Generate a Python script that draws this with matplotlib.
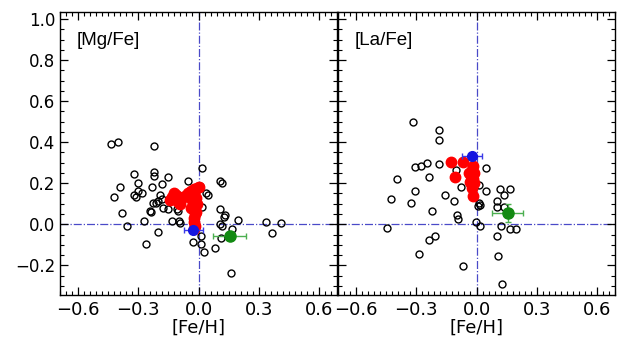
import matplotlib
matplotlib.use("Agg")
import matplotlib.pyplot as plt
from matplotlib.ticker import MultipleLocator

# field stars, [Fe/H] vs [Mg/Fe]
mg_feh = [-0.438, -0.400, -0.222, 0.017, -0.320, -0.222, -0.222, -0.153, -0.300, -0.390,
          -0.183, -0.233, -0.053, 0.009, 0.105, 0.115, -0.420, -0.300, -0.279, -0.320,
          -0.312, -0.192, -0.200, -0.212, -0.183, -0.225, 0.037, 0.047, -0.242, -0.237,
          -0.380, -0.178, -0.153, -0.108, -0.100, 0.017, 0.105, 0.134, 0.125, 0.195,
          0.334, 0.412, 0.364, -0.270, -0.130, -0.097, -0.092, -0.358, 0.105, 0.115,
          0.167, -0.200, 0.014, 0.114, -0.262, -0.025, 0.014, 0.025, 0.084, 0.164]
mg_val = [0.392, 0.400, 0.382, 0.273, 0.244, 0.254, 0.233, 0.232, 0.203, 0.183,
          0.194, 0.183, 0.213, 0.187, 0.213, 0.203, 0.132, 0.162, 0.154, 0.143,
          0.132, 0.143, 0.114, 0.105, 0.122, 0.102, 0.154, 0.145, 0.066, 0.059,
          0.057, 0.081, 0.073, 0.073, 0.065, 0.083, 0.073, 0.045, 0.033, 0.021,
          0.013, 0.004, -0.045, 0.015, 0.015, 0.016, 0.005, -0.008, 0.001, -0.008,
          -0.024, -0.036, -0.057, -0.068, -0.096, -0.085, -0.096, -0.134, -0.117, -0.236]

# cluster members (red)
mg_red_feh = [-0.140, -0.130, -0.120, -0.110, -0.095, -0.080, -0.065, -0.050, -0.035, -0.020,
              -0.005, 0.000, -0.020, -0.010, -0.020, -0.015, -0.020, -0.015, -0.020, -0.020,
              -0.015, -0.020, -0.010, -0.005, -0.030, -0.035, -0.100, -0.090]
mg_red_val = [0.120, 0.135, 0.150, 0.145, 0.135, 0.130, 0.140, 0.150, 0.160, 0.170,
              0.175, 0.180, 0.150, 0.130, 0.110, 0.090, 0.070, 0.050, 0.030, 0.010,
              -0.010, -0.025, 0.060, 0.100, 0.120, 0.080, 0.110, 0.100]

# field stars, [Fe/H] vs [La/Fe]
la_feh = [-0.316, -0.187, -0.187, -0.307, -0.278, -0.248, -0.185, -0.104, 0.047, -0.397,
          -0.236, -0.307, -0.427, -0.156, -0.326, -0.114, -0.075, 0.014, 0.047, 0.116,
          0.167, 0.136, 0.103, 0.103, 0.014, 0.009, -0.224, -0.095, -0.092, -0.004,
          0.018, -0.448, 0.124, 0.167, 0.195, 0.103, -0.206, -0.236, -0.287, 0.106,
          -0.067, 0.126, 0.137, 0.018]
la_val = [0.500, 0.460, 0.411, 0.281, 0.284, 0.300, 0.294, 0.265, 0.273, 0.221,
          0.232, 0.164, 0.123, 0.143, 0.102, 0.115, 0.183, 0.192, 0.164, 0.172,
          0.172, 0.143, 0.115, 0.086, 0.102, 0.089, 0.065, 0.045, 0.024, 0.013,
          -0.007, -0.017, -0.007, -0.024, -0.024, -0.056, -0.056, -0.077, -0.145, -0.155,
          -0.203, -0.293, 0.083, 0.094]

la_red_feh = [-0.126, -0.067, -0.106, -0.016, -0.022, -0.012, -0.025, -0.015, -0.030, -0.020,
              -0.010, -0.035, -0.016, -0.020]
la_red_val = [0.302, 0.302, 0.232, 0.285, 0.265, 0.250, 0.235, 0.220, 0.205, 0.190,
              0.200, 0.250, 0.140, 0.175]

# blue and green reference stars: (feh, val, xerr, yerr)
mg_blue = (-0.025, -0.028, 0.045, 0.01)
mg_green = (0.155, -0.056, 0.081, 0.02)
la_blue = (-0.024, 0.333, 0.050, 0.01)
la_green = (0.156, 0.054, 0.078, 0.045)

fig = plt.figure(figsize=(6.2, 3.43), dpi=100)
ax1 = fig.add_axes([60 / 620, 48 / 343, 277 / 620, 283 / 343])
ax2 = fig.add_axes([338 / 620, 48 / 343, 277 / 620, 283 / 343], sharey=ax1)

panels = [
    (ax1, "[Mg/Fe]", mg_feh, mg_val, mg_red_feh, mg_red_val, mg_blue, mg_green),
    (ax2, "[La/Fe]", la_feh, la_val, la_red_feh, la_red_val, la_blue, la_green),
]

for ax, name, fx, fy, rx, ry, blue, green in panels:
    ax.axvline(0, color="#4a4ac8", lw=0.9, ls="-.", zorder=1)
    ax.axhline(0, color="#4a4ac8", lw=0.9, ls="-.", zorder=1)
    ax.plot(fx, fy, "o", ms=5, mfc="none", mec="black", mew=1.0, zorder=2)
    ax.plot(rx, ry, "o", ms=7.5, color="red", mec="red", zorder=3)
    ax.errorbar(blue[0], blue[1], xerr=blue[2], yerr=blue[3], fmt="o", ms=7,
                color="#1515e0", ecolor="#3a3ae8", elinewidth=1, capsize=2, zorder=4)
    ax.errorbar(green[0], green[1], xerr=green[2], yerr=green[3], fmt="o", ms=8,
                color="#128a12", ecolor="#4caf50", elinewidth=1, capsize=2, zorder=4)

    ax.set_xlim(-0.69, 0.69)
    ax.set_ylim(-0.345, 1.035)
    ax.xaxis.set_major_locator(MultipleLocator(0.3))
    ax.xaxis.set_minor_locator(MultipleLocator(0.03))
    ax.yaxis.set_major_locator(MultipleLocator(0.2))
    ax.yaxis.set_minor_locator(MultipleLocator(0.05))
    ax.tick_params(which="both", direction="in", top=True, right=True)
    ax.tick_params(which="major", length=6, width=0.9)
    ax.tick_params(which="minor", length=3, width=0.8)
    ax.tick_params(axis="x", labelsize=13, pad=4)
    ax.tick_params(axis="y", labelsize=12)
    ax.set_xlabel("[Fe/H]", fontsize=13, labelpad=0)
    ax.text(0.061, 0.90, name, transform=ax.transAxes, fontsize=13.5,
            family="Liberation Sans", va="center", ha="left")
    for s in ax.spines.values():
        s.set_linewidth(1.0)

ax2.tick_params(axis="y", labelleft=False)

fig.savefig("out.png", dpi=100)
